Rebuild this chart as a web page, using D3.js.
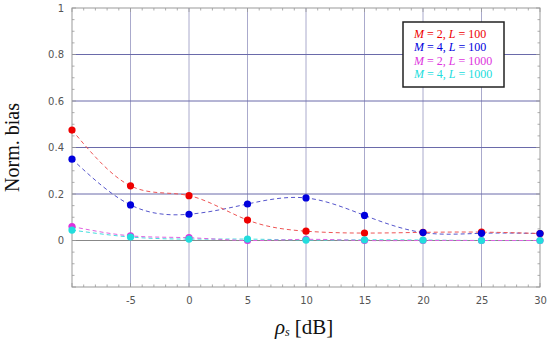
<!DOCTYPE html>
<html>
<head>
<meta charset="utf-8">
<script src="https://cdn.jsdelivr.net/npm/d3@7"></script>
<style>
  body { margin: 0; background: #fff; }
  svg { display: block; }
  .tick text { font-family: "DejaVu Sans", sans-serif; font-size: 10px; fill: #555; }
</style>
</head>
<body>
<div id="chart"></div>
<script>
// data
const rho = [-10, -5, 0, 5, 10, 15, 20, 25, 30];
const m2L100 = [0.475, 0.235, 0.193, 0.088, 0.040, 0.032, 0.035, 0.036, 0.030];
const m4L100 = [0.350, 0.153, 0.113, 0.157, 0.183, 0.108, 0.034, 0.031, 0.030];
const m2L1000 = [0.060, 0.020, 0.012, 0.000, 0.005, 0.000, 0.000, 0.000, 0.000];
const m4L1000 = [0.045, 0.015, 0.006, 0.006, 0.002, 0.003, 0.002, 0.000, 0.000];
const xTicks = [-5, 0, 5, 10, 15, 20, 25, 30];
const yTicks = [0, 0.2, 0.4, 0.6, 0.8, 1];

const series = [
    { M: 2, L: 100, values: m2L100, dot: "#ee0000", line: "#ee5555" },
    { M: 4, L: 100, values: m4L100, dot: "#0000dd", line: "#5555cc" },
    { M: 2, L: 1000, values: m2L1000, dot: "#dd33dd", line: "#e060e0" },
    { M: 4, L: 1000, values: m4L1000, dot: "#22dddd", line: "#44dddd" }
];

const width = 550, height = 346;
const margin = { top: 8, right: 10, bottom: 59, left: 72 };

const svg = d3.select("#chart").append("svg")
    .attr("width", width)
    .attr("height", height);

const x = d3.scaleLinear().domain([-10, 30]).range([margin.left, width - margin.right]);
const y = d3.scaleLinear().domain([-0.2, 1]).range([height - margin.bottom, margin.top]);

// grid
svg.append("g").selectAll("line")
    .data(xTicks.filter(d => d < 30))
    .enter().append("line")
    .attr("x1", d => x(d)).attr("x2", d => x(d))
    .attr("y1", y(-0.2)).attr("y2", y(1))
    .attr("stroke", "#aaaacc").attr("stroke-width", 1);

svg.append("g").selectAll("line")
    .data([0.2, 0.4, 0.6, 0.8])
    .enter().append("line")
    .attr("x1", x(-10)).attr("x2", x(30))
    .attr("y1", d => y(d)).attr("y2", d => y(d))
    .attr("stroke", "#6a6aaa").attr("stroke-width", 1);

svg.append("line")
    .attr("x1", x(-10)).attr("x2", x(30))
    .attr("y1", y(0)).attr("y2", y(0))
    .attr("stroke", "#888").attr("stroke-width", 1.2);

// axes with minor ticks
const xAxis = d3.axisBottom(x).tickValues(xTicks).tickSize(0).tickPadding(10).tickFormat(d => String(d));
svg.append("g")
    .attr("transform", `translate(0,${y(-0.2)})`)
    .call(xAxis)
    .call(g => g.select(".domain").remove());

const yAxis = d3.axisLeft(y).tickValues(yTicks).tickSize(0).tickPadding(8).tickFormat(d => String(d));
svg.append("g")
    .attr("transform", `translate(${x(-10)},0)`)
    .call(yAxis)
    .call(g => g.select(".domain").remove());

const minorX = d3.range(-10, 30.01, 1);
const minorY = d3.range(-0.2, 1.001, 0.05);
const tk = svg.append("g").attr("stroke", "#999").attr("stroke-width", 0.8);
minorX.forEach(v => {
    const len = (Math.round(v) % 5 === 0) ? 4 : 2.5;
    tk.append("line").attr("x1", x(v)).attr("x2", x(v)).attr("y1", y(-0.2)).attr("y2", y(-0.2) - len);
    tk.append("line").attr("x1", x(v)).attr("x2", x(v)).attr("y1", y(1)).attr("y2", y(1) + len);
});
minorY.forEach(v => {
    const len = (Math.round(v * 100) % 20 === 0) ? 4 : 2.5;
    tk.append("line").attr("y1", y(v)).attr("y2", y(v)).attr("x1", x(-10)).attr("x2", x(-10) + len);
    tk.append("line").attr("y1", y(v)).attr("y2", y(v)).attr("x1", x(30)).attr("x2", x(30) - len);
});

svg.append("rect")
    .attr("x", x(-10)).attr("y", y(1))
    .attr("width", x(30) - x(-10)).attr("height", y(-0.2) - y(1))
    .attr("fill", "none").attr("stroke", "#999").attr("stroke-width", 1);

// curves
const line = d3.line()
    .x((d, i) => x(rho[i]))
    .y(d => y(d))
    .curve(d3.curveNatural);

series.slice().reverse().forEach(s => {
    svg.append("path")
        .datum(s.values)
        .attr("fill", "none")
        .attr("stroke", s.line)
        .attr("stroke-width", 1)
        .attr("stroke-dasharray", "4,3")
        .attr("d", line);
});

series.forEach(s => {
    svg.append("g").selectAll("circle")
        .data(s.values)
        .enter().append("circle")
        .attr("cx", (d, i) => x(rho[i]))
        .attr("cy", d => y(d))
        .attr("r", 3.6)
        .attr("fill", s.dot);
});

// legend: each piece is its own text so italics can be placed side by side
const lg = svg.append("g");
lg.append("rect")
    .attr("x", 403).attr("y", 22)
    .attr("width", 101).attr("height", 65)
    .attr("fill", "#fff").attr("stroke", "#222").attr("stroke-width", 1.5);

series.forEach((s, i) => {
    const parts = [
        { t: "M", it: true },
        { t: `\u00a0=\u00a0${s.M},\u00a0`, it: false },
        { t: "L", it: true },
        { t: `\u00a0=\u00a0${s.L}`, it: false }
    ];
    let cx = 414;
    parts.forEach(p => {
        const node = lg.append("text")
            .attr("x", cx).attr("y", 38 + i * 13.4)
            .attr("font-family", "Liberation Serif, serif")
            .attr("font-size", 12)
            .attr("font-style", p.it ? "italic" : "normal")
            .attr("fill", s.dot)
            .text(p.t);
        cx += node.node().getComputedTextLength();
    });
});

// axis titles
svg.append("text")
    .attr("transform", `translate(19,${y(0.4)})rotate(-90)`)
    .attr("text-anchor", "middle")
    .attr("font-family", "Liberation Serif, serif")
    .attr("font-size", 20)
    .attr("fill", "#111")
    .text("Norm. bias");

const rhoT = svg.append("text")
    .attr("x", 275).attr("y", 334)
    .attr("font-family", "Liberation Serif, serif")
    .attr("font-size", 21)
    .attr("font-style", "italic")
    .attr("fill", "#111")
    .text("ρ");
const rw = rhoT.node().getComputedTextLength();
const sT = svg.append("text")
    .attr("x", 275 + rw).attr("y", 336)
    .attr("font-family", "Liberation Serif, serif")
    .attr("font-size", 12)
    .attr("font-style", "italic")
    .attr("fill", "#111")
    .text("s");
const sw = sT.node().getComputedTextLength();
svg.append("text")
    .attr("x", 275 + rw + sw + 5).attr("y", 334)
    .attr("font-family", "Liberation Serif, serif")
    .attr("font-size", 21)
    .attr("fill", "#111")
    .text("[dB]");
</script>
</body>
</html>
